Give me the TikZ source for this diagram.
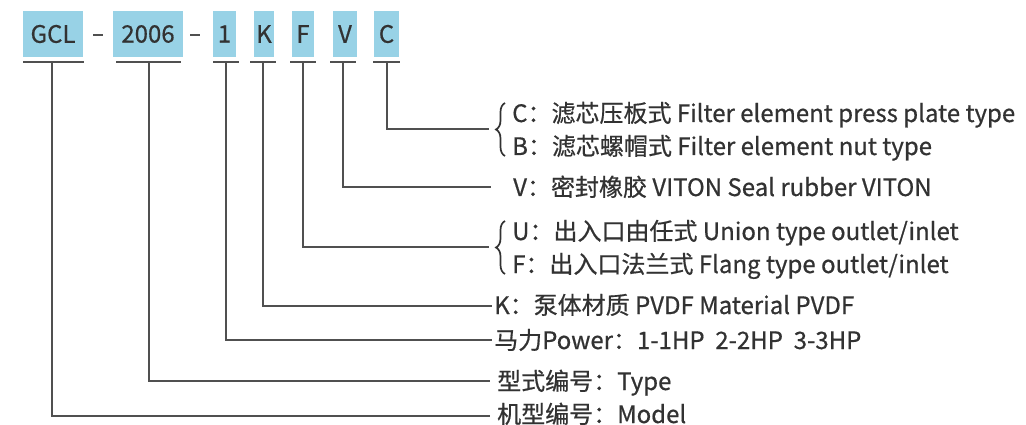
\documentclass[tikz,border=0pt]{standalone}
\usepackage{fontspec}
\setmainfont{Noto Sans CJK SC}
\newfontfamily\lblfont{Noto Sans CJK SC}[FakeBold=0.6]
\usetikzlibrary{decorations.pathreplacing}
\definecolor{boxblue}{RGB}{152,210,230}
\definecolor{txt}{RGB}{50,50,50}
\definecolor{ln}{RGB}{80,80,80}
\begin{document}
\begin{tikzpicture}[x=1pt,y=-1pt,
  codebox/.style={fill=boxblue,text=txt,minimum height=46pt,inner sep=0pt,font=\lblfont\fontsize{24}{28}\selectfont},
  lbl/.style={anchor=base west,text=txt,inner sep=0pt,font=\lblfont\fontsize{24}{28}\selectfont},
  conn/.style={draw=ln,line width=1.5pt},
  bar/.style={draw=ln,line width=1.5pt},
  dashline/.style={draw=ln,line width=1.3pt},
  curly/.style={draw=txt,line width=1.7pt,decorate,decoration={brace,amplitude=9pt}}]
\useasboundingbox (0,0) rectangle (1026,425);
% code boxes
\node[codebox,minimum width=60pt] (bG) at (53,34) {GCL};
\node[codebox,minimum width=70pt] (b2) at (148,34) {2006};
\node[codebox,minimum width=23pt] (b1) at (224.5,34) {1};
\node[codebox,minimum width=20pt] (bK) at (264,34) {K};
\node[codebox,minimum width=22pt] (bF) at (303,34) {F};
\node[codebox,minimum width=24pt] (bV) at (345,34) {V};
\node[codebox,minimum width=25pt] (bC) at (386.5,34) {C};
% dashes between boxes
\draw[dashline] (93,35) -- (103,35);
\draw[dashline] (190,35) -- (200,35);
% bars under boxes
\foreach \n/\xa/\xb in {G/23/84, 2/116/181, 1/213/239, K/250/276, F/290/316, V/330/356, C/373/400}{
  \coordinate (l\n) at (\xa,62); \coordinate (r\n) at (\xb,62);
  \draw[bar] (l\n) -- (r\n);
}
\coordinate (sG) at (52,62);
\coordinate (s2) at (149,62);
\coordinate (s1) at (226,62);
\coordinate (sK) at (263,62);
\coordinate (sF) at (303,62);
\coordinate (sV) at (343,62);
\coordinate (sC) at (387,62);
% labels
\node[lbl] (tC) at (512,122) {C：滤芯压板式 Filter element press plate type};
\node[lbl] (tB) at (512,155) {B：滤芯螺帽式 Filter element nut type};
\node[lbl] (tV) at (513,196) {V：密封橡胶 VITON Seal rubber VITON};
\node[lbl] (tU) at (512,240) {U：出入口由任式 Union type outlet/inlet};
\node[lbl] (tF) at (512,273) {F：出入口法兰式 Flang type outlet/inlet};
\node[lbl] (tK) at (494,314) {K：泵体材质 PVDF Material PVDF};
\node[lbl] (tP) at (494,349) {马力Power：1-1HP\ \ 2-2HP\ \ 3-3HP};
\node[lbl] (tT) at (497,390) {型式编号：Type};
\node[lbl] (tM) at (497,423) {机型编号：Model};
% braces
\coordinate (cb1) at (505,156); \coordinate (ct1) at (505,103);
\coordinate (cb2) at (505,274); \coordinate (ct2) at (505,221);
\draw[curly] (cb1) -- (ct1);
\draw[curly] (cb2) -- (ct2);
% connectors
\coordinate (eC) at (489,129);
\coordinate (eV) at (491,187);
\coordinate (eF) at (489,247);
\coordinate (eK) at (492,306);
\coordinate (eP) at (492,340);
\coordinate (eT) at (490,381);
\coordinate (eM) at (490,416);
\draw[conn] (sC) |- (eC);
\draw[conn] (sV) |- (eV);
\draw[conn] (sF) |- (eF);
\draw[conn] (sK) |- (eK);
\draw[conn] (s1) |- (eP);
\draw[conn] (s2) |- (eT);
\draw[conn] (sG) |- (eM);
\end{tikzpicture}
\end{document}
